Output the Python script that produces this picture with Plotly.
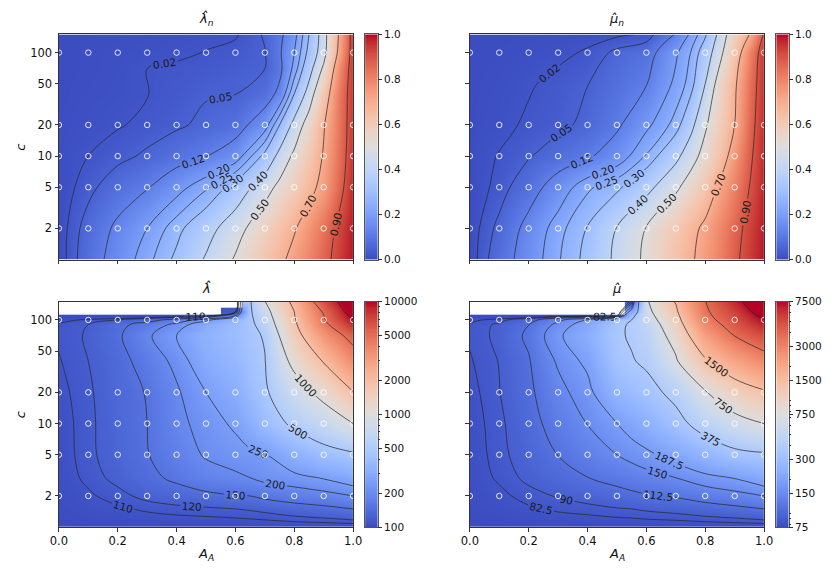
import math
import numpy as np
import plotly.graph_objects as go

# ---------------------------------------------------------------- data
# estimated field values
A_TOP = [0.0, 0.1, 0.2, 0.3, 0.4, 0.5, 0.6, 0.7, 0.75, 0.8, 0.85, 0.9, 0.95, 1.0]

C_LAMN = [1, 2, 5, 10, 20, 40, 70, 100, 150]
LAMBDA_N = [
    [0.000, 0.080, 0.155, 0.233, 0.315, 0.410, 0.510, 0.620, 0.675, 0.735, 0.800, 0.865, 0.935, 0.990],
    [0.000, 0.070, 0.135, 0.200, 0.280, 0.360, 0.460, 0.570, 0.630, 0.690, 0.760, 0.840, 0.920, 0.985],
    [0.000, 0.037, 0.080, 0.115, 0.175, 0.240, 0.330, 0.460, 0.525, 0.590, 0.660, 0.740, 0.860, 0.970],
    [0.005, 0.020, 0.037, 0.058, 0.088, 0.118, 0.165, 0.320, 0.430, 0.520, 0.610, 0.710, 0.840, 0.955],
    [0.003, 0.010, 0.017, 0.028, 0.042, 0.062, 0.085, 0.170, 0.300, 0.430, 0.550, 0.690, 0.830, 0.950],
    [0.002, 0.006, 0.011, 0.019, 0.030, 0.046, 0.049, 0.080, 0.140, 0.300, 0.440, 0.620, 0.820, 0.950],
    [0.002, 0.004, 0.008, 0.020, 0.024, 0.030, 0.040, 0.050, 0.100, 0.220, 0.360, 0.520, 0.780, 0.950],
    [0.002, 0.004, 0.007, 0.011, 0.015, 0.021, 0.030, 0.048, 0.110, 0.200, 0.320, 0.460, 0.720, 0.950],
    [0.002, 0.003, 0.005, 0.008, 0.011, 0.014, 0.016, 0.055, 0.100, 0.180, 0.300, 0.450, 0.700, 0.950],
]

C_MUN = [1, 2, 5, 10, 20, 50, 100, 150]
MU_N = [
    [0.000, 0.080, 0.160, 0.244, 0.320, 0.420, 0.520, 0.630, 0.685, 0.740, 0.805, 0.880, 0.940, 0.990],
    [0.000, 0.062, 0.145, 0.230, 0.304, 0.404, 0.505, 0.610, 0.665, 0.725, 0.790, 0.865, 0.930, 0.985],
    [0.000, 0.030, 0.085, 0.158, 0.240, 0.285, 0.370, 0.480, 0.550, 0.620, 0.720, 0.810, 0.900, 0.975],
    [0.003, 0.022, 0.046, 0.078, 0.110, 0.160, 0.255, 0.375, 0.455, 0.540, 0.630, 0.760, 0.880, 0.970],
    [0.002, 0.010, 0.026, 0.038, 0.062, 0.108, 0.185, 0.270, 0.370, 0.485, 0.590, 0.700, 0.860, 0.965],
    [0.002, 0.006, 0.016, 0.030, 0.049, 0.080, 0.117, 0.215, 0.270, 0.400, 0.550, 0.680, 0.840, 0.960],
    [0.001, 0.003, 0.007, 0.012, 0.024, 0.060, 0.085, 0.190, 0.250, 0.340, 0.470, 0.620, 0.800, 0.960],
    [0.001, 0.002, 0.004, 0.006, 0.009, 0.013, 0.025, 0.125, 0.210, 0.290, 0.430, 0.580, 0.700, 0.910],
]

NAN = float("nan")
C_BOT = [1, 1.5, 2, 3, 5, 10, 20, 40, 70, 90, 100, 110, 120, 150]

A_LAM = [0.0, 0.1, 0.2, 0.3, 0.4, 0.5, 0.6, 0.65, 0.7, 0.8, 0.9, 1.0]
LAMBDA = [
    [100, 100, 100, 100, 100, 100, 100, 100, 100, 100, 100, 100],
    [101, 105, 108, 112, 115, 117, 120, 122, 125, 133, 140, 150],
    [102, 108, 115, 125, 132, 140, 148, 150, 158, 170, 180, 200],
    [103, 113, 125, 140, 158, 180, 190, 200, 215, 230, 255, 290],
    [103, 116, 130, 148, 175, 205, 225, 235, 245, 320, 400, 455],
    [104, 116, 132, 150, 185, 220, 262, 310, 390, 540, 700, 1000],
    [106, 117, 134, 152, 192, 250, 310, 380, 460, 760, 1150, 1950],
    [109, 120, 137, 165, 215, 300, 360, 420, 490, 1130, 2050, 3700],
    [112, 122, 143, 190, 250, 330, 390, 440, 520, 1500, 3300, 5800],
    [112, 120, 140, 165, 215, 300, 390, 450, 600, 1750, 4300, 8300],
    [106, 112, 120, 135, 165, 230, 340, 455, 650, 1850, 4700, 10000],
    [90, 90, 90, 90, 90, 95, 200, 460, 700, 1950, 4950, 11000],
    [NAN, NAN, NAN, NAN, NAN, NAN, 110, 465, 760, 2000, 5200, 12000],
    [NAN, NAN, NAN, NAN, NAN, NAN, NAN, 470, 980, 2200, 6500, 14000],
]

A_MU = [0.0, 0.1, 0.2, 0.3, 0.4, 0.5, 0.55, 0.6, 0.7, 0.8, 0.9, 1.0]
MU = [
    [75, 75, 75, 75, 75, 75, 75, 75, 75, 75, 75, 75],
    [76, 78, 81, 84, 86, 89, 90, 92, 95, 100, 105, 112.5],
    [76.5, 80, 86, 91, 96, 102, 106, 110, 115, 125, 135, 150],
    [77, 84, 93, 102, 112, 122, 128, 135, 150, 172, 190, 220],
    [77.5, 86, 98, 113, 130, 150, 162, 175, 210, 260, 320, 345],
    [78, 87, 102, 125, 151, 187, 212, 240, 320, 450, 600, 750],
    [79, 89.5, 106, 138, 170, 260, 290, 320, 420, 720, 1050, 1380],
    [81.5, 90.5, 110, 155, 200, 330, 365, 400, 700, 1400, 2100, 2900],
    [84, 93, 118, 178, 235, 355, 390, 450, 900, 2200, 3750, 5000],
    [84, 92, 112, 160, 215, 340, 395, 480, 1050, 2800, 4500, 6700],
    [80, 86, 100, 140, 190, 310, 375, 520, 1150, 3100, 4900, 7500],
    [70, 70, 70, 70, 70, 70, 320, 560, 1250, 3300, 5200, 8200],
    [NAN, NAN, NAN, NAN, NAN, NAN, 220, 600, 1350, 3450, 5500, 9000],
    [NAN, NAN, NAN, NAN, NAN, NAN, 90, 680, 1550, 3700, 6500, 10500],
]

LEVELS_TOP = [0.02, 0.05, 0.12, 0.20, 0.25, 0.30, 0.40, 0.50, 0.70, 0.90]
LEVELS_LAM = [110, 120, 150, 200, 250, 500, 1000, 2000, 5000, 10000]
LEVELS_MU = [82.5, 90, 112.5, 150, 187.5, 375, 750, 1500, 3750, 7500]

SAMPLE_A = [0.0, 0.1, 0.2, 0.3, 0.4, 0.5, 0.6, 0.7, 0.8, 0.9, 1.0]
SAMPLE_C = [2, 5, 10, 20, 100]

X_TICKS = [0.0, 0.2, 0.4, 0.6, 0.8, 1.0]
Y_TICKS = [2, 5, 10, 20, 50, 100]
C_RANGE = [1, 150]

CB_TOP_TICKS = [0.0, 0.2, 0.4, 0.6, 0.8, 1.0]
CB_LAM_RANGE = [100, 10000]
CB_LAM_TICKS = [100, 200, 500, 1000, 2000, 5000, 10000]
CB_MU_RANGE = [75, 7500]
CB_MU_TICKS = [75, 150, 300, 750, 1500, 3000, 7500]

# matplotlib "coolwarm" (Moreland) colour table
COOLWARM = [
    (59, 76, 192), (68, 90, 204), (77, 104, 215), (87, 117, 225), (98, 130, 234),
    (108, 142, 241), (119, 154, 247), (130, 165, 251), (141, 176, 254), (152, 185, 255),
    (163, 194, 255), (174, 201, 253), (184, 208, 249), (194, 213, 244), (204, 217, 238),
    (213, 219, 230), (221, 221, 221), (229, 216, 209), (236, 211, 197), (241, 204, 185),
    (245, 196, 173), (247, 187, 160), (247, 177, 148), (247, 166, 135), (244, 154, 123),
    (241, 141, 111), (236, 127, 99), (229, 112, 88), (222, 96, 77), (213, 80, 66),
    (203, 62, 56), (192, 40, 47), (180, 4, 38),
]
CSCALE = [[i / (len(COOLWARM) - 1), "rgb(%d,%d,%d)" % c] for i, c in enumerate(COOLWARM)]

# ---------------------------------------------------------------- layout helpers
W, H = 835, 574
FONT = "DejaVu Sans"


def dx(a, b):
    return [a / W, b / W]


def dy(top, bottom):
    return [1 - bottom / H, 1 - top / H]


def to_list(arr):
    return [[None if (v is None or (isinstance(v, float) and math.isnan(v))) else float(v) for v in row] for row in arr]


def minor_log(lo, hi, majors):
    vals = []
    for k in range(-1, 6):
        for m in range(1, 10):
            v = m * 10 ** k
            if lo < v < hi and all(abs(v - M) > 1e-9 for M in majors):
                vals.append(v)
    return vals


PANELS = [
    dict(a=A_TOP, c=C_LAMN, z=LAMBDA_N, levels=LEVELS_TOP, log=False, rng=[0, 1],
         title="<i>λ̂</i><sub><i>n</i></sub>", xdom=dx(51, 351.7), ydom=dy(29, 259),
         cbdom=dx(364, 376.7), xlab=False, ylab=True, cbticks=CB_TOP_TICKS, fmt=".2f"),
    dict(a=A_TOP, c=C_MUN, z=MU_N, levels=LEVELS_TOP, log=False, rng=[0, 1],
         title="<i>μ̂</i><sub><i>n</i></sub>", xdom=dx(471, 771.7), ydom=dy(29, 259),
         cbdom=dx(784.3, 796.7), xlab=False, ylab=False, cbticks=CB_TOP_TICKS, fmt=".2f"),
    dict(a=A_LAM, c=C_BOT, z=LAMBDA, levels=LEVELS_LAM, log=True, rng=CB_LAM_RANGE,
         title="<i>λ̂</i>", xdom=dx(51, 351.7), ydom=dy(302, 532.3),
         cbdom=dx(364, 376.7), xlab=True, ylab=True, cbticks=CB_LAM_TICKS, fmt=None),
    dict(a=A_MU, c=C_BOT, z=MU, levels=LEVELS_MU, log=True, rng=CB_MU_RANGE,
         title="<i>μ̂</i>", xdom=dx(471, 771.7), ydom=dy(302, 532.3),
         cbdom=dx(784.3, 796.7), xlab=True, ylab=False, cbticks=CB_MU_TICKS, fmt=None),
]

fig = go.Figure()
axis_common = dict(showgrid=False, zeroline=False, showline=True, mirror=True,
                   linecolor="#333333", linewidth=0.8, ticks="outside", ticklen=3.5,
                   tickwidth=0.8, tickcolor="#333333",
                   tickfont=dict(family=FONT, size=11.5, color="#111111"))
layout = {}

for i, p in enumerate(PANELS):
    n = i + 1
    xa, ya = ("x" if n == 1 else "x%d" % n), ("y" if n == 1 else "y%d" % n)
    ylog = [math.log10(c) for c in p["c"]]
    zarr = np.array(p["z"], dtype=float)

    if p["log"]:
        zheat = np.log10(zarr)
        zmin, zmax = math.log10(p["rng"][0]), math.log10(p["rng"][1])
    else:
        zheat = zarr
        zmin, zmax = p["rng"]

    fig.add_trace(go.Heatmap(x=p["a"], y=ylog, z=to_list(zheat), colorscale=CSCALE,
                             zmin=zmin, zmax=zmax, zsmooth="best", showscale=False,
                             hoverinfo="skip", xaxis=xa, yaxis=ya))

    # contour lines (missing region is treated as below every level)
    floor = np.nanmin(zarr) * 0.6
    zc = np.where(np.isnan(zarr), floor, zarr)
    for lev in p["levels"]:
        if p["fmt"]:
            fmt = p["fmt"]
        else:
            fmt = "d" if float(lev).is_integer() else ".1f"
        fig.add_trace(go.Contour(
            x=p["a"], y=ylog, z=zc.tolist(), autocontour=False,
            contours=dict(start=lev, end=lev, size=1, coloring="lines", showlabels=True,
                          labelfont=dict(family=FONT, size=10.5, color="#1a1a1a"),
                          labelformat=fmt),
            colorscale=[[0, "#262626"], [1, "#262626"]], showscale=False,
            line=dict(width=0.7, smoothing=1.0), hoverinfo="skip",
            xaxis=xa, yaxis=ya))

    # sample points
    sx = [a for c in SAMPLE_C for a in SAMPLE_A]
    sy = [math.log10(c) for c in SAMPLE_C for a in SAMPLE_A]
    fig.add_trace(go.Scatter(x=sx, y=sy, mode="markers", hoverinfo="skip",
                             marker=dict(symbol="circle-open", size=5.5,
                                         color="rgba(255,255,255,0.85)",
                                         line=dict(width=1, color="rgba(255,255,255,0.85)")),
                             showlegend=False, xaxis=xa, yaxis=ya))

    layout["xaxis" if n == 1 else "xaxis%d" % n] = dict(
        axis_common, domain=p["xdom"], anchor=ya, range=[0, 1],
        tickvals=X_TICKS, ticktext=["%.1f" % v for v in X_TICKS],
        showticklabels=p["xlab"])
    layout["yaxis" if n == 1 else "yaxis%d" % n] = dict(
        axis_common, domain=p["ydom"], anchor=xa,
        range=[math.log10(C_RANGE[0]), math.log10(C_RANGE[1])],
        tickvals=[math.log10(v) for v in Y_TICKS], ticktext=[str(v) for v in Y_TICKS],
        showticklabels=p["ylab"])

    # colour bar drawn as its own small axis
    m = n + 4
    cxa, cya = "x%d" % m, "y%d" % m
    grad = np.linspace(zmin, zmax, 256)
    fig.add_trace(go.Heatmap(x=[0, 1], y=grad.tolist(), z=[[g, g] for g in grad],
                             colorscale=CSCALE, zmin=zmin, zmax=zmax, showscale=False,
                             hoverinfo="skip", xaxis=cxa, yaxis=cya))
    if p["log"]:
        tv = [math.log10(v) for v in p["cbticks"]]
        tt = [str(v) for v in p["cbticks"]]
        minor = dict(tickvals=[math.log10(v) for v in minor_log(p["rng"][0], p["rng"][1], p["cbticks"])],
                     ticks="outside", ticklen=2, tickwidth=0.6, tickcolor="#333333")
    else:
        tv = p["cbticks"]
        tt = ["%.1f" % v for v in p["cbticks"]]
        minor = None
    layout["xaxis%d" % m] = dict(domain=p["cbdom"], anchor=cya, range=[0, 1], showgrid=False,
                                 zeroline=False, showticklabels=False, ticks="",
                                 showline=True, mirror=True, linecolor="#555555", linewidth=0.8)
    yax = dict(domain=p["ydom"], anchor=cxa, side="right", range=[zmin, zmax],
               showgrid=False, zeroline=False, showline=True, mirror=True,
               linecolor="#555555", linewidth=0.8, ticks="outside", ticklen=3.5,
               tickwidth=0.8, tickcolor="#333333", tickvals=tv, ticktext=tt,
               tickfont=dict(family=FONT, size=10.5, color="#111111"))
    if minor:
        yax["minor"] = minor
    layout["yaxis%d" % m] = yax

# text: titles and axis labels
ann = []
for p in PANELS:
    xc = (p["xdom"][0] + p["xdom"][1]) / 2
    ann.append(dict(text=p["title"], x=xc, y=p["ydom"][1] + 4 / H, xref="paper", yref="paper",
                    xanchor="center", yanchor="bottom", showarrow=False,
                    font=dict(family=FONT, size=13, color="#111111")))
    if p["ylab"]:
        yc = (p["ydom"][0] + p["ydom"][1]) / 2
        ann.append(dict(text="<i>c</i>", x=12 / W, y=yc, xref="paper", yref="paper",
                        xanchor="center", yanchor="middle", textangle=-90, showarrow=False,
                        font=dict(family=FONT, size=13, color="#111111")))
    if p["xlab"]:
        ann.append(dict(text="<i>A</i><sub><i>A</i></sub>", x=xc, y=1 - 560 / H,
                        xref="paper", yref="paper", xanchor="center", yanchor="middle",
                        showarrow=False, font=dict(family=FONT, size=13, color="#111111")))

fig.update_layout(width=W, height=H, margin=dict(l=0, r=0, t=0, b=0),
                  paper_bgcolor="white", plot_bgcolor="white", showlegend=False,
                  font=dict(family=FONT), annotations=ann, **layout)

fig.write_html("out.html")
